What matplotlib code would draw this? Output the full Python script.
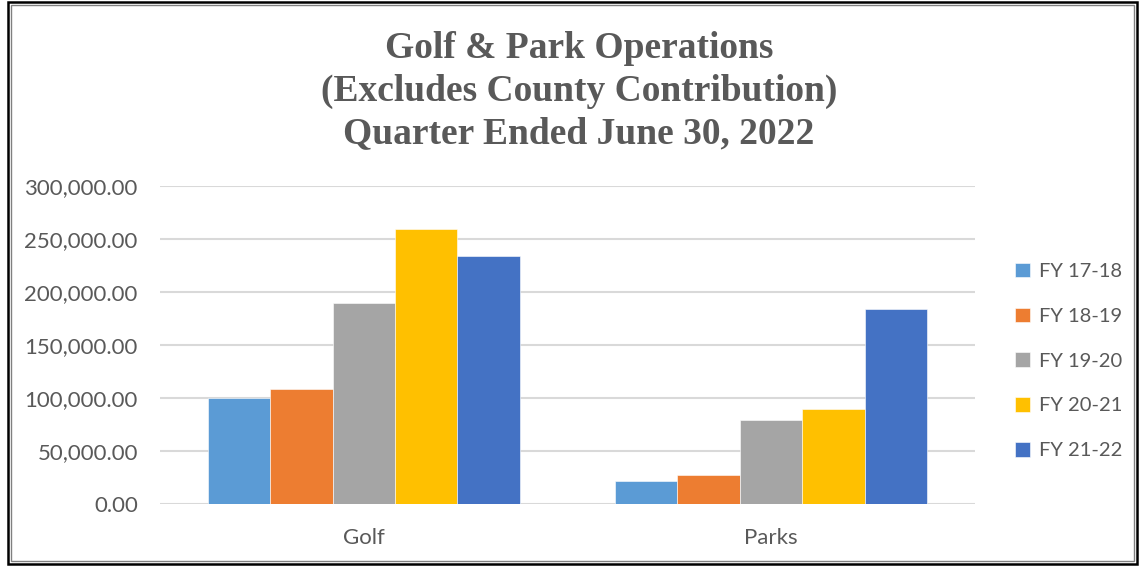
import numpy as np
import matplotlib
matplotlib.use("Agg")
import matplotlib.pyplot as plt
from matplotlib.patches import Rectangle

# --- data ---
categories = ["Golf", "Parks"]
series = ["FY 17-18", "FY 18-19", "FY 19-20", "FY 20-21", "FY 21-22"]
fy17_18 = [100300, 21700]
fy18_19 = [108500, 27400]
fy19_20 = [189600, 79000]
fy20_21 = [259200, 89900]
fy21_22 = [234200, 184200]
values = [fy17_18, fy18_19, fy19_20, fy20_21, fy21_22]
colors = ["#5B9BD5", "#ED7D31", "#A5A5A5", "#FFC000", "#4472C4"]
yticks = [0, 50000, 100000, 150000, 200000, 250000, 300000]

plt.rcParams["font.family"] = ["Lato", "DejaVu Sans"]

fig = plt.figure(figsize=(11.4, 5.67), dpi=100)
ax = fig.add_axes([0.1404, 0.111, 0.7146, 0.561])

x = np.arange(len(categories))
width = 0.1532
for i, (name, vals) in enumerate(zip(series, values)):
    offs = (i - 2) * width
    ax.bar(x + offs, vals, width, color=colors[i], label=name,
           edgecolor="white", linewidth=0.4, zorder=3)

ax.set_xlim(-0.5, 1.5)
ax.set_ylim(0, 300000)
ax.set_yticks(yticks)
ax.set_yticklabels([f"{v:,.2f}" for v in yticks])
ax.set_xticks(x)
ax.set_xticklabels(categories)
ax.tick_params(axis="both", length=0, labelsize=16, colors="#595959")
ax.tick_params(axis="y", pad=16)
ax.tick_params(axis="x", pad=17)
ax.grid(axis="y", color="#D9D9D9", linewidth=1.5, zorder=0)
for s in ax.spines.values():
    s.set_visible(False)

title_lines = ["Golf & Park Operations",
               "(Excludes County Contribution)",
               "Quarter Ended June 30, 2022"]
for line, ypix in zip(title_lines, [48, 91, 134]):
    fig.text(579 / 1140, 1 - ypix / 567, line, ha="center", va="center",
             fontsize=27, fontweight="bold", color="#595959",
             family="Liberation Serif")

leg = ax.legend(loc="center left", bbox_to_anchor=(997 / 1140, 1 - 361 / 567),
                bbox_transform=fig.transFigure, frameon=False, fontsize=14.5,
                handlelength=0.75, handleheight=0.75, handletextpad=0.45,
                labelspacing=1.36, labelcolor="#595959")

# double border around the chart
fig.add_artist(Rectangle((8 / 1140, 3 / 567), 1129 / 1140, 562 / 567,
                         transform=fig.transFigure, fill=False,
                         edgecolor="black", linewidth=1.8))
fig.add_artist(Rectangle((11 / 1140, 6 / 567), 1123 / 1140, 556 / 567,
                         transform=fig.transFigure, fill=False,
                         edgecolor="#808080", linewidth=1.0))

fig.savefig("out.png", dpi=100)
